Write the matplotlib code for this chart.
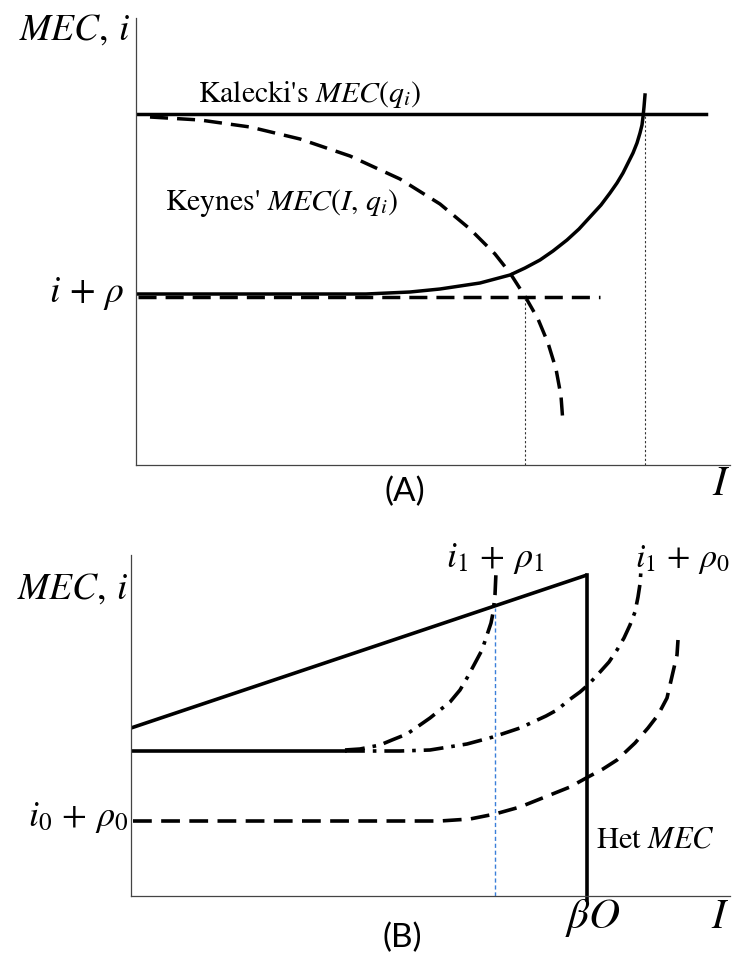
import matplotlib
matplotlib.use("Agg")
import matplotlib.pyplot as plt

plt.rcParams['mathtext.fontset'] = 'stix'
plt.rcParams['font.family'] = 'STIXGeneral'

# ---- panel A: Kalecki vs Keynes (x, y measured from the origin) ----
kalecki_level = 351
kalecki_end = 570

keynes_x = [14, 64, 114, 164, 214, 264, 304, 334, 359, 374, 390, 402, 412, 420, 425, 427]
keynes_y = [348, 345, 338, 326, 309, 286, 261, 236, 211, 192, 167, 146, 122, 96, 69, 42]

supply_x = [2, 230, 274, 304, 324, 344, 359, 374, 389, 404, 417, 431, 443, 454,
            465, 474, 481, 487, 492, 497, 501, 504, 506, 507, 508, 509]
supply_y = [171, 171, 173, 176, 179, 182, 186, 190, 197, 205, 214, 225, 236, 248,
            260, 272, 282, 292, 302, 312, 322, 332, 340, 348, 358, 370]

rate_a = 168
rate_a_end = 464
keynes_cross = 389
kalecki_cross = 509

# ---- panel B: heterogeneous MEC ----
het_x = [0, 456]
het_y = [168, 321]
beta_o = 456

flat_end = 214
flat_level = 145

r11_x = [214, 229, 249, 261, 276, 289, 299, 309, 319, 329, 336, 343, 351, 357, 360, 362, 364, 365]
r11_y = [146, 147, 151, 156, 162, 171, 178, 186, 194, 206, 218, 231, 246, 264, 273, 283, 301, 324]

r10_x = [214, 269, 299, 336, 362, 389, 402, 415, 426, 438, 449, 457, 469, 478, 486,
         493, 499, 504, 507, 509, 510]
r10_y = [145, 145, 146, 152, 159, 168, 174, 180, 186, 196, 204, 211, 224, 234, 246,
         258, 271, 284, 299, 312, 326]

r00_x = [2, 309, 339, 364, 389, 419, 439, 457, 472, 486, 504, 517, 527, 536, 542, 546, 547]
r00_y = [75, 75, 77, 82, 89, 101, 109, 119, 127, 136, 153, 168, 181, 198, 224, 241, 256]

blue_x = 364
blue_top = 288

W, H = 732, 958
fig = plt.figure(figsize=(W / 100, H / 100), dpi=100)

axA = fig.add_axes([136 / W, (H - 465) / H, (730 - 136) / W, (465 - 18) / H])
axB = fig.add_axes([131 / W, (H - 896) / H, (730 - 131) / W, (896 - 555) / H])
axA.set_xlim(0, 594)
axA.set_ylim(0, 447)
axB.set_xlim(0, 599)
axB.set_ylim(0, 341)

for ax in (axA, axB):
    ax.set_xticks([])
    ax.set_yticks([])
    ax.spines['top'].set_visible(False)
    ax.spines['right'].set_visible(False)
    ax.spines['left'].set_color('#444444')
    ax.spines['bottom'].set_color('#444444')
    ax.spines['left'].set_linewidth(0.9)
    ax.spines['bottom'].set_linewidth(0.9)
    ax.patch.set_alpha(0)

lw = 2.5
dash = (5.2, 2.6)

# panel A
axA.plot([0, kalecki_end], [kalecki_level, kalecki_level], color='black', lw=lw)
axA.plot(keynes_x, keynes_y, color='black', lw=lw, dashes=dash)
axA.plot(supply_x, supply_y, color='black', lw=lw, solid_joinstyle='round')
axA.plot([2, rate_a_end], [rate_a, rate_a], color='black', lw=lw, dashes=dash)
axA.plot([keynes_cross, keynes_cross], [0, rate_a], color='#333333', lw=0.8, dashes=(2, 2))
axA.plot([kalecki_cross, kalecki_cross], [0, kalecki_level], color='#333333', lw=0.8, dashes=(2, 2))

axA.text(62, 363, r"Kalecki's $MEC(q_i)$", fontsize=21.5, va='baseline')
axA.text(29, 255, r"Keynes' $MEC(I,\,q_i)$", fontsize=21.5, va='baseline')
axA.text(-6, 425, r"$MEC,\,i$", fontsize=27, ha='right', va='baseline', clip_on=False)
axA.text(-11, 163, r"$i\,+\,\rho$", fontsize=27, ha='right', va='baseline', clip_on=False)
axA.text(585, -30, r"$I$", fontsize=30, ha='center', va='baseline', clip_on=False)
axA.text(269, -27, "(A)", fontsize=24, family='Lato', ha='center', va='center', clip_on=False)

# panel B
dashdot = (5.5, 2.2, 1.0, 2.2)
axB.plot(het_x, het_y, color='black', lw=2.6, solid_capstyle='butt')
axB.plot([beta_o, beta_o], [het_y[1], -4], color='black', lw=2.6, clip_on=False)
axB.plot([0, flat_end], [flat_level, flat_level], color='black', lw=2.6)
axB.plot(r11_x, r11_y, color='black', lw=2.6, dashes=dashdot)
axB.plot(r10_x, r10_y, color='black', lw=2.6, dashes=dashdot)
axB.plot(r00_x, r00_y, color='black', lw=2.6, dashes=dash)
axB.plot([blue_x, blue_x], [0, blue_top], color='#3a7fd9', lw=1.0, dashes=(3, 2))

axB.text(-3, 297, r"$MEC,\,i$", fontsize=27, ha='right', va='baseline', clip_on=False)
axB.text(315, 329, r"$i_1\,+\,\rho_1$", fontsize=26, va='baseline')
axB.text(504, 329, r"$i_1\,+\,\rho_0$", fontsize=24.5, va='baseline', clip_on=False)
axB.text(-3, 70, r"$i_0\,+\,\rho_0$", fontsize=26, ha='right', va='baseline', clip_on=False)
axB.text(465, 49, r"Het $MEC$", fontsize=22, va='baseline')
axB.text(462, -32, r"$\beta O$", fontsize=31, ha='center', va='baseline', clip_on=False)
axB.text(589, -32, r"$I$", fontsize=30, ha='center', va='baseline', clip_on=False)
axB.text(271, -42, "(B)", fontsize=24, family='Lato', ha='center', va='center', clip_on=False)

fig.savefig("out.png", dpi=100)
